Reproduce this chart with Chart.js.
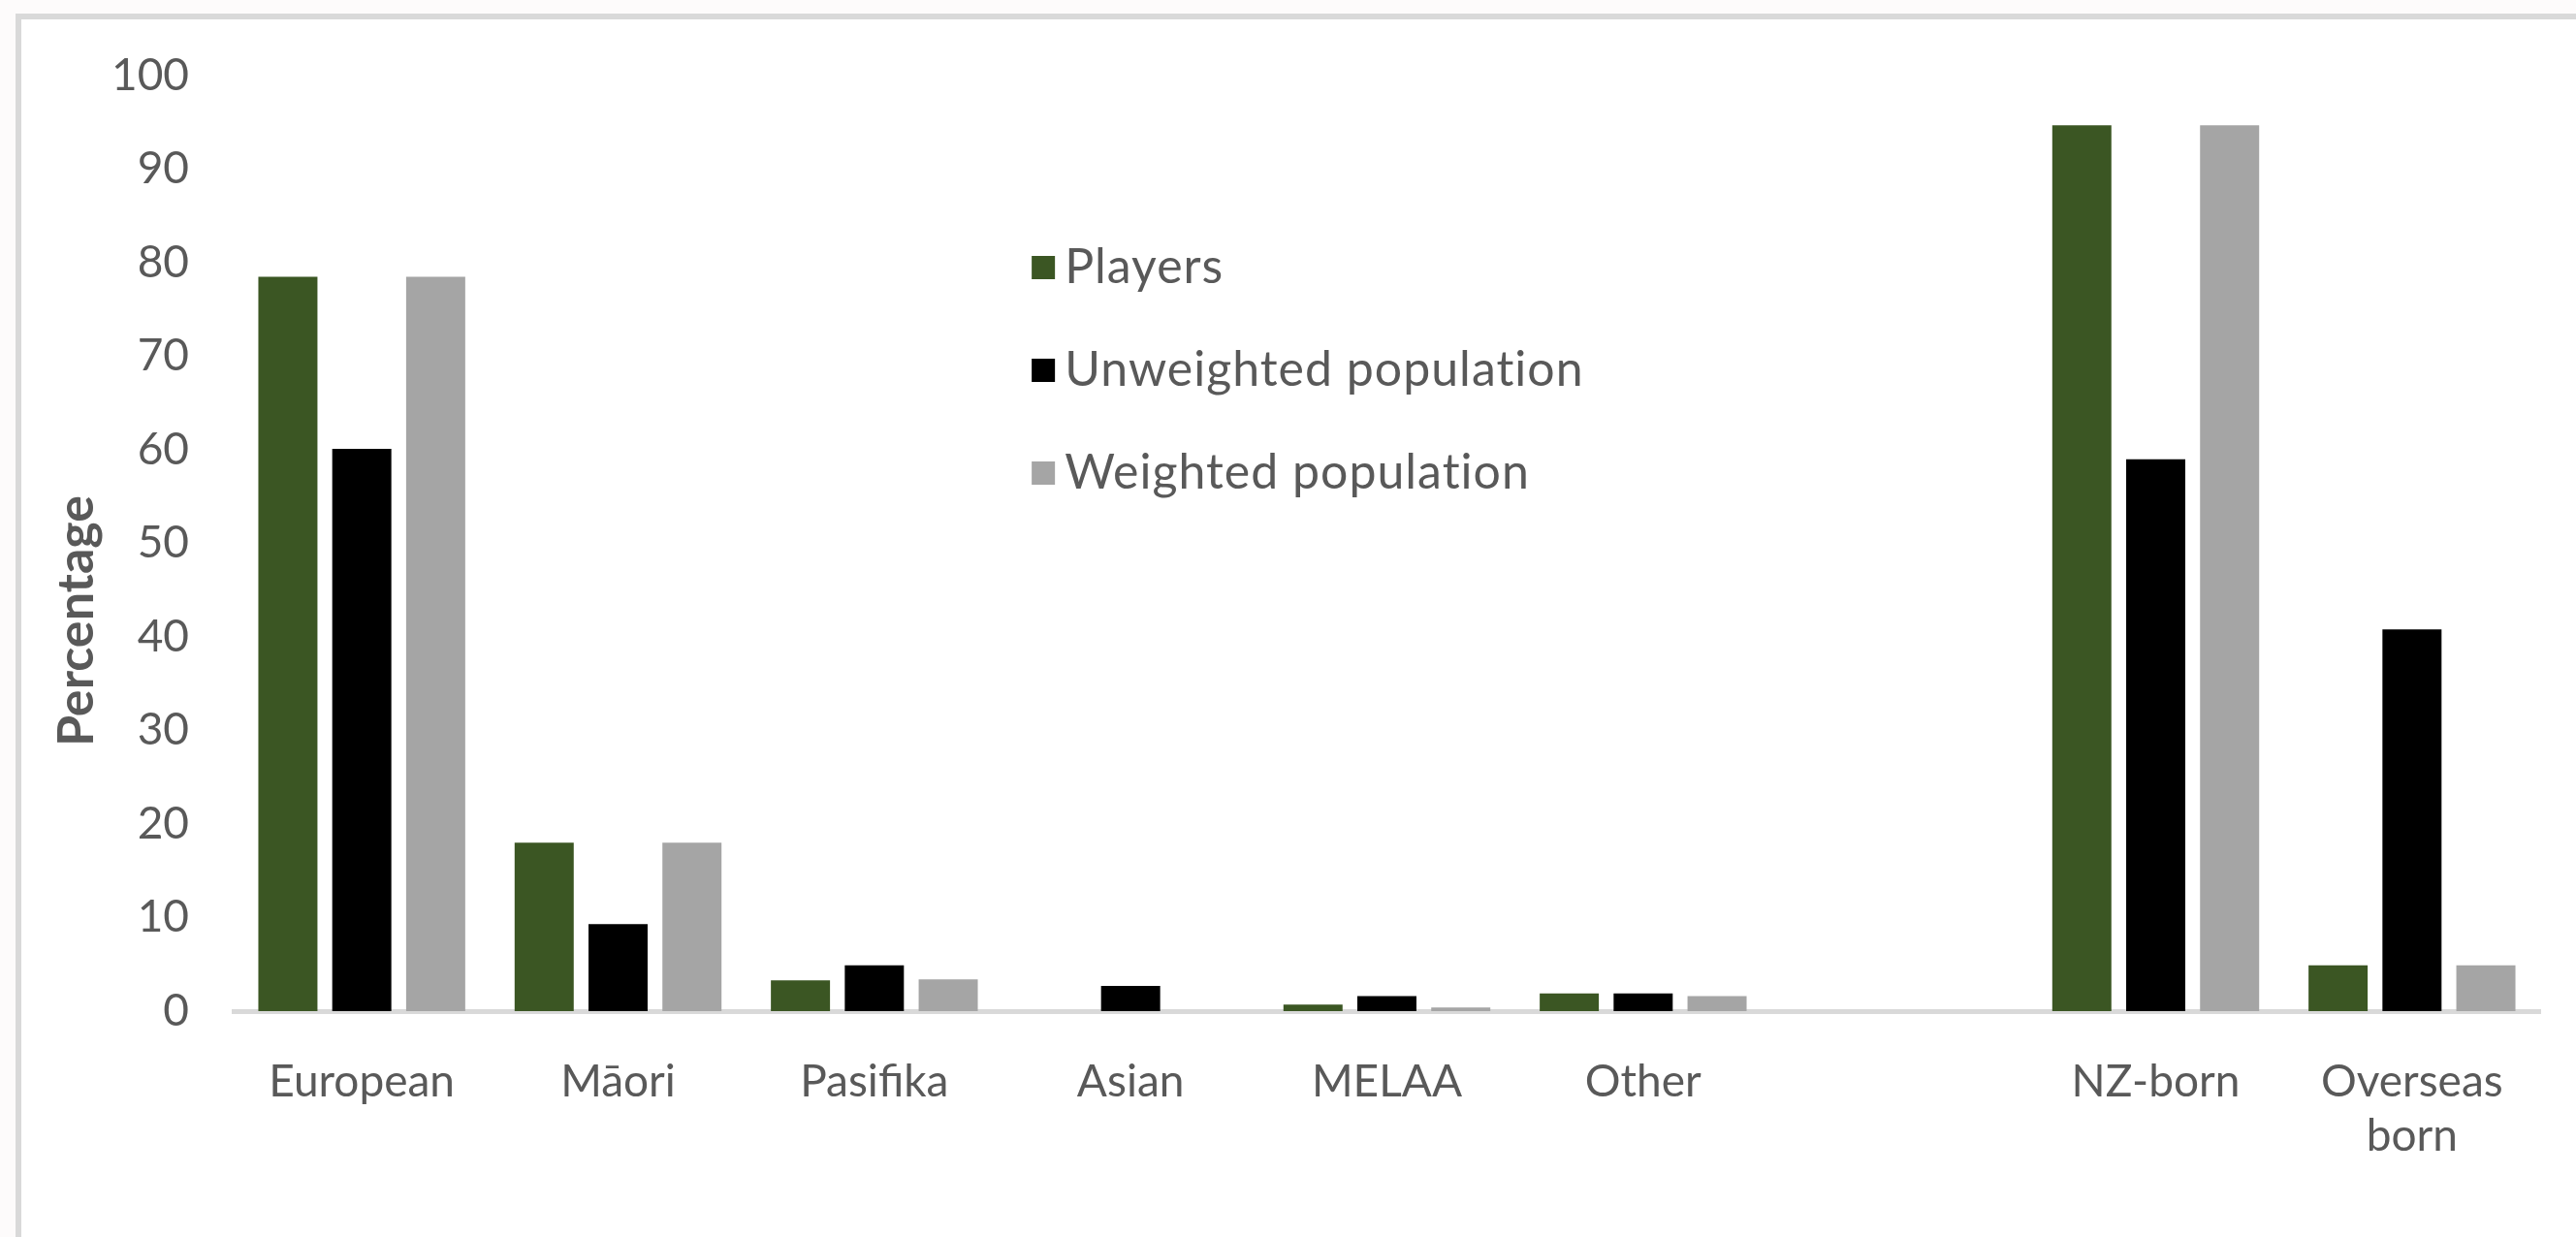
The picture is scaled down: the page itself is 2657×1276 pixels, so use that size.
<!DOCTYPE html>
<html>
<head>
<meta charset="utf-8">
<script src="https://cdn.jsdelivr.net/npm/chart.js@4.4.1/dist/chart.umd.min.js"></script>
<style>
    html, body {
        margin: 0;
        padding: 0;
        width: 2657px;
        height: 1276px;
        overflow: hidden;
        background: #fdfbfb;
    }
    #frame {
        position: absolute;
        left: 16px;
        top: 14px;
        width: 2700px;
        height: 1300px;
        border-left: 6px solid #d9d9d9;
        border-top: 6px solid #d9d9d9;
        background: #ffffff;
    }
    #chart {
        position: absolute;
        left: 0;
        top: 0;
    }
</style>
</head>
<body>
<div id="frame"></div>
<canvas id="chart" width="2657" height="1276"></canvas>
<script>
// Categories (the empty one is the gap between the ethnicity and birthplace groups)
const categories = ['European', 'Māori', 'Pasifika', 'Asian', 'MELAA', 'Other', '', 'NZ-born', ['Overseas', 'born']];

// Series values (percentages)
const players = [78.5, 18.0, 3.3, 0, 0.7, 1.9, null, 94.7, 4.9];
const unweighted = [60.1, 9.3, 4.9, 2.7, 1.6, 1.9, null, 59.0, 40.8];
const weighted = [78.5, 18.0, 3.4, 0, 0.4, 1.6, null, 94.7, 4.9];

const seriesNames = ['Players', 'Unweighted population', 'Weighted population'];
const seriesColors = ['#3b5623', '#000000', '#a5a5a5'];

// Y axis ticks
const yMin = 0;
const yMax = 100;
const yStep = 10;
const yTitle = 'Percentage';

const textColor = '#595959';
const fontFamily = 'Lato, "Open Sans", sans-serif';

// Legend drawn inside the plot area, like the original
const insideLegend = {
    id: 'insideLegend',
    afterDatasetsDraw(chart) {
        const { ctx, chartArea } = chart;
        const left = chartArea.left + (chartArea.right - chartArea.left) * 0.346;
        const firstRow = chartArea.top + 198;
        const rowGap = 106;
        const box = 24;
        ctx.save();
        ctx.font = '50px ' + fontFamily;
        ctx.letterSpacing = '1px';
        ctx.textBaseline = 'middle';
        ctx.textAlign = 'left';
        chart.data.datasets.forEach((ds, i) => {
            const y = firstRow + i * rowGap;
            ctx.fillStyle = ds.backgroundColor;
            ctx.fillRect(left, y - box / 2, box, box);
            ctx.fillStyle = textColor;
            ctx.fillText(ds.label, left + box + 10, y);
        });
        ctx.restore();
    }
};

// Y axis title: in the original it sits lower than the middle of the plot
const yAxisTitle = {
    id: 'yAxisTitle',
    afterDraw(chart) {
        const { ctx, chartArea } = chart;
        const x = chart.scales.y.left + 55;
        const y = (chartArea.top + chartArea.bottom) / 2 + 80;
        ctx.save();
        ctx.translate(x, y);
        ctx.rotate(-Math.PI / 2);
        ctx.font = 'bold 52px ' + fontFamily;
        ctx.fillStyle = textColor;
        ctx.textAlign = 'center';
        ctx.textBaseline = 'middle';
        ctx.fillText(yTitle, 0, 0);
        ctx.restore();
    }
};

const ctx = document.getElementById('chart');

new Chart(ctx, {
    type: 'bar',
    data: {
        labels: categories,
        datasets: [
            { label: seriesNames[0], data: players, backgroundColor: seriesColors[0] },
            { label: seriesNames[1], data: unweighted, backgroundColor: seriesColors[1] },
            { label: seriesNames[2], data: weighted, backgroundColor: seriesColors[2] }
        ]
    },
    options: {
        responsive: false,
        animation: false,
        devicePixelRatio: 1,
        categoryPercentage: 0.865,
        barPercentage: 0.8,
        layout: {
            padding: { left: 24, top: 78, right: 37, bottom: 23 }
        },
        scales: {
            x: {
                grid: { display: false, drawTicks: false },
                border: { display: true, color: '#d9d9d9', width: 5 },
                ticks: {
                    color: textColor,
                    padding: 46,
                    maxRotation: 0,
                    autoSkip: false,
                    font: { family: fontFamily, size: 46 }
                },
                afterFit(scale) {
                    scale.height = 210;
                }
            },
            y: {
                min: yMin,
                max: yMax,
                grid: { display: false, drawTicks: false },
                border: { display: false },
                ticks: {
                    stepSize: yStep,
                    color: textColor,
                    padding: 46,
                    font: { family: fontFamily, size: 46 }
                },
                afterFit(scale) {
                    scale.width = 217;
                }
            }
        },
        plugins: {
            legend: { display: false },
            tooltip: { enabled: false }
        }
    },
    plugins: [insideLegend, yAxisTitle]
});
</script>
</body>
</html>
